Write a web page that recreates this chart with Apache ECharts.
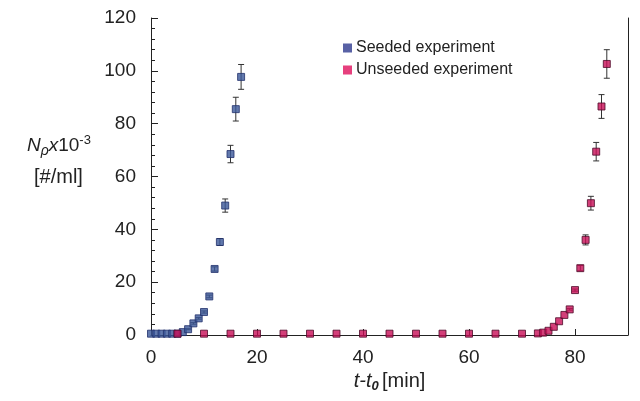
<!DOCTYPE html>
<html>
<head>
<meta charset="utf-8">
<script src="https://cdn.jsdelivr.net/npm/echarts@6/dist/echarts.min.js"></script>
<style>
  html, body { margin: 0; padding: 0; background: #fff; }
  #chart { width: 640px; height: 401px; }
</style>
</head>
<body>
<div id="chart"></div>
<script>
// seeded experiment
const seededT = [0, 1, 2, 3, 4, 5, 6, 7, 8, 9, 10, 11, 12, 13, 14, 15, 16, 17]
const seededN = [0.5, 0.5, 0.5, 0.5, 0.5, 0.5, 1.1, 2.2, 4.4, 6.3, 8.7, 14.6, 25, 35.2, 49, 68.5, 85.5, 97.7]
const seededErr = [0, 0, 0, 0, 0, 0, 0, 0.2, 0.3, 0.3, 0.4, 0.5, 0.8, 1.3, 2.5, 3.3, 4.5, 4.7]

// unseeded experiment
const unseededT = [5, 10, 15, 20, 25, 30, 35, 40, 45, 50, 55, 60, 65, 70, 73, 74, 75, 76, 77, 78, 79, 80, 81, 82, 83, 84, 85, 86]
const unseededN = [0.5, 0.5, 0.5, 0.5, 0.5, 0.5, 0.5, 0.5, 0.5, 0.5, 0.5, 0.5, 0.5, 0.5, 0.6, 0.9, 1.6, 3.1, 5.2, 7.6, 9.7, 17, 25.3, 36, 49.9, 69.4, 86.5, 102.6]
const unseededErr = [0, 0, 0, 0, 0, 0, 0, 0, 0, 0, 0, 0, 0, 0, 0, 0, 0, 0, 0, 0, 0.3, 0.4, 1, 1.9, 2.6, 3.5, 4.5, 5.4]

const seriesNames = ['Seeded experiment', 'Unseeded experiment']

const chart = echarts.init(document.getElementById('chart'))

const toPoints = (t, n) => t.map((x, i) => [x, n[i]])
const toBars = (t, n, e) => t.map((x, i) => [x, n[i] - e[i], n[i] + e[i]]).filter((d, i) => e[i] > 0)

// error bar drawn through the axis scales
const errorBar = (params, api) => {
  const x = api.value(0)
  const lo = api.coord([x, api.value(1)])
  const hi = api.coord([x, api.value(2)])
  const w = 3
  const style = { stroke: '#333', lineWidth: 1 }
  return {
    type: 'group',
    children: [
      { type: 'line', shape: { x1: lo[0], y1: lo[1], x2: hi[0], y2: hi[1] }, style },
      { type: 'line', shape: { x1: lo[0] - w, y1: lo[1], x2: lo[0] + w, y2: lo[1] }, style },
      { type: 'line', shape: { x1: hi[0] - w, y1: hi[1], x2: hi[0] + w, y2: hi[1] }, style }
    ]
  }
}

const font = 'Liberation Sans, Arial, sans-serif'

chart.setOption({
  backgroundColor: '#fff',
  animation: false,
  grid: { left: 151, right: 12, top: 18, bottom: 66 },
  legend: {
    data: [
      { name: seriesNames[0], itemStyle: { color: '#2e3a8f', borderWidth: 0 } },
      { name: seriesNames[1], itemStyle: { color: '#e0105c', borderWidth: 0 } }
    ],
    orient: 'vertical',
    left: 338,
    top: 35,
    itemWidth: 9,
    itemHeight: 9,
    itemGap: 6,
    icon: 'rect',
    textStyle: { fontFamily: font, fontSize: 16, color: '#222', padding: [0, 0, 0, -1] }
  },
  xAxis: {
    type: 'value',
    min: 0,
    max: 90,
    interval: 20,
    axisLine: { lineStyle: { color: '#222', width: 1 } },
    axisTick: { inside: true, length: 6, lineStyle: { color: '#222' } },
    axisLabel: {
      fontFamily: font, fontSize: 19, color: '#222', margin: 13,
      formatter: v => (v > 85 ? '' : v)
    },
    splitLine: { show: false },
    name: '{it|t-t}{sub|0} {n|[min]}',
    nameLocation: 'middle',
    nameGap: 35,
    nameTextStyle: {
      rich: {
        it: { fontFamily: font, fontSize: 20, fontStyle: 'italic', color: '#222' },
        sub: { fontFamily: font, fontSize: 13, fontStyle: 'italic', fontWeight: 'bold', color: '#222', padding: [9, 0, 0, 0] },
        n: { fontFamily: font, fontSize: 20, color: '#222' }
      }
    }
  },
  yAxis: [
    {
      type: 'value',
      min: 0,
      max: 120,
      interval: 20,
      axisLine: { show: true, lineStyle: { color: '#222', width: 1 } },
      axisTick: { inside: true, length: 7, lineStyle: { color: '#222' } },
      axisLabel: { fontFamily: font, fontSize: 19, color: '#222', margin: 15 },
      splitLine: { show: false }
    },
    {
      type: 'value',
      min: 0,
      max: 120,
      position: 'right',
      axisLine: { show: true, lineStyle: { color: '#222', width: 1 } },
      axisTick: { show: false },
      axisLabel: { show: false },
      splitLine: { show: false }
    },
    {
      // minor ticks every 4
      type: 'value',
      min: 0,
      max: 120,
      interval: 4,
      position: 'left',
      axisLine: { show: false },
      axisTick: { show: true, inside: true, length: 4, lineStyle: { color: '#222' } },
      axisLabel: { show: false },
      splitLine: { show: false }
    }
  ],
  graphic: [
    {
      type: 'text',
      left: 27,
      top: 134,
      style: {
        text: '{n|N}{s|ρ}{x|x}{t|10}{e|-3}',
        rich: {
          n: { fontFamily: font, fontSize: 19, fontStyle: 'italic', fill: '#222' },
          s: { fontFamily: font, fontSize: 14, fontStyle: 'italic', fill: '#222', padding: [11, 0, 0, 0] },
          x: { fontFamily: font, fontSize: 19, fontStyle: 'italic', fill: '#222' },
          t: { fontFamily: font, fontSize: 19, fill: '#222' },
          e: { fontFamily: font, fontSize: 13, fill: '#222', padding: [0, 0, 10, 0] }
        }
      }
    },
    {
      type: 'text',
      left: 34,
      top: 167,
      style: { text: '[#/ml]', fontFamily: font, fontSize: 20, fill: '#222' }
    }
  ],
  series: [
    {
      type: 'custom',
      renderItem: errorBar,
      data: toBars(seededT, seededN, seededErr),
      z: 1,
      silent: true
    },
    {
      type: 'custom',
      renderItem: errorBar,
      data: toBars(unseededT, unseededN, unseededErr),
      z: 1,
      silent: true
    },
    {
      name: seriesNames[0],
      type: 'scatter',
      data: toPoints(seededT, seededN),
      symbol: 'rect',
      symbolSize: 7,
      itemStyle: { color: '#3b5798', borderColor: '#22316b', borderWidth: 1 },
      z: 3
    },
    {
      name: seriesNames[1],
      type: 'scatter',
      data: toPoints(unseededT, unseededN),
      symbol: 'rect',
      symbolSize: 7,
      itemStyle: { color: '#c80f58', borderColor: '#4d0a28', borderWidth: 1 },
      z: 4
    }
  ]
})
</script>
</body>
</html>
